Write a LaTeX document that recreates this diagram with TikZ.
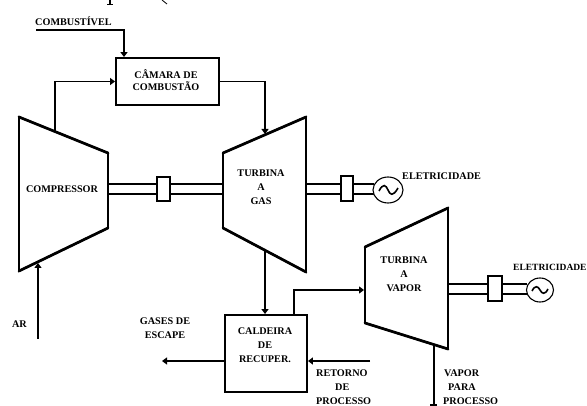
\documentclass[tikz,border=0pt]{standalone}
\usepackage{fontspec}
\setmainfont{Liberation Serif}
\usetikzlibrary{arrows.meta,shapes.geometric}
\tikzset{
  x=1pt,y=-1pt,
  machine/.style={line width=1.9pt,line join=miter},
  slant/.style={line width=2.7pt,line cap=round},
  box/.style={draw,line width=1.9pt,fill=white,inner sep=0pt,minimum width=#1},
  lbl/.style={font=\bfseries\fontsize{10.2}{14}\selectfont,align=center,inner sep=0pt},
  lblleft/.style={lbl,align=left},
  conn/.style={line width=1.3pt,-{Triangle[length=5pt,width=7pt]}},
  plain/.style={line width=1.3pt},
  shaft/.style={line width=1.9pt},
  coupling/.style={draw,line width=2pt,fill=white,inner sep=0pt},
  gen/.style={draw,line width=1.1pt,fill=white,ellipse,inner sep=0pt},
  wave/.style={line width=1.6pt},
}
\begin{document}
\begin{tikzpicture}
\useasboundingbox (0,0) rectangle (587,406);
\clip (0,0) rectangle (587,406);
% clipped remains of a line of text at the top edge
\draw[line width=1.5pt] (110,0) -- (110,5);
\draw[line width=1pt] (107,5) -- (113,5);
\draw[line width=0.8pt] (162,0) -- (167,4);
% machines
\draw[machine] (19,117) -- (108,153) -- (108,228) -- (19,271) -- cycle;
\draw[slant] (19,117) -- (108,153) (108,228) -- (19,271);
\draw[machine] (223,153) -- (306,117) -- (306,272) -- (223,228) -- cycle;
\draw[slant] (223,153) -- (306,117) (306,272) -- (223,228);
\draw[machine] (365,247) -- (448,208) -- (448,349) -- (365,323) -- cycle;
\draw[slant] (365,247) -- (448,208) (448,349) -- (365,323);
\coordinate (cmpTop) at (55,132);
\coordinate (cmpBot) at (38,263);
\coordinate (turbTop) at (265,134);
\coordinate (turbBot) at (265,250);
\coordinate (stL) at (364,290);
\coordinate (stBot) at (434,345);
% shafts
\draw[shaft] (108,184) -- (223,184) (108,194) -- (223,194);
\draw[shaft] (306,184) -- (374,184) (306,194) -- (374,194);
\draw[shaft] (448,284) -- (527,284) (448,294) -- (527,294);
\node[coupling,minimum width=13pt,minimum height=24pt] (c1) at (163.5,189) {};
\node[coupling,minimum width=12pt,minimum height=25pt] (c2) at (346.5,189) {};
\node[coupling,minimum width=14pt,minimum height=25pt] (c3) at (494.5,289) {};
\node[gen,minimum width=30pt,minimum height=26pt] (g1) at (388,190) {};
\node[gen,minimum width=27pt,minimum height=24pt] (g2) at (540,290) {};
\draw[wave] (379,191) .. controls (383,183) and (386,185) .. (388,190) .. controls (390,195) and (393,197) .. (398,188);
\draw[wave] (532,291) .. controls (535,285) and (538,286) .. (540,290) .. controls (542,294) and (545,295) .. (548,289);
% boxes
\node[box=103pt,minimum height=47pt] (cam) at (167.5,81.5) {};
\node[box=82pt,minimum height=77pt] (cal) at (266,353.5) {};
% free ends
\coordinate (fuel) at (36,30);
\coordinate (ar) at (38,339);
\coordinate (esc) at (162,361);
\coordinate (ret) at (370,361);
\coordinate (vap) at (434,405);
\coordinate (tick) at (430,405);
\coordinate (tickr) at (437,405);
\coordinate (stOut) at (294,315);
% connectors
\draw[conn] (fuel) -| (cam.north -| 124,0);
\draw[conn] (cmpTop) |- (cam.west);
\draw[conn] (cam.east) -| (turbTop);
\draw[conn] (ar) -- (cmpBot);
\draw[conn] (turbBot) -- (cal.north -| turbBot);
\draw[conn] (cal.west |- esc) -- (esc);
\draw[conn] (ret) -- (cal.east |- ret);
\draw[conn] (stOut) |- (stL);
\draw[plain] (stBot) -- (vap);
\draw[plain] (tick) -- (tickr);
% labels
\node[lbl,anchor=west] (tFuel) at (35,21) {COMBUSTÍVEL};
\node[lbl,font=\bfseries\fontsize{10.2}{12}\selectfont] (tCam) at (166,80) {CÂMARA DE\\COMBUSTÃO};
\node[lbl] (tComp) at (62,189) {COMPRESSOR};
\node[lbl] (tTG) at (261,187) {TURBINA\\A\\GAS};
\node[lbl,anchor=west] (tE1) at (402,176) {ELETRICIDADE};
\node[lbl] (tTV) at (404,274) {TURBINA\\A\\VAPOR};
\node[lbl,anchor=west,font=\bfseries\fontsize{9.5}{14}\selectfont] (tE2) at (513,267) {ELETRICIDADE};
\node[lbl] (tAR) at (19.5,324) {AR};
\node[lbl] (tGas) at (165,328) {GASES DE\\ESCAPE};
\node[lbl] (tCal) at (265,345) {CALDEIRA\\DE\\RECUPER.};
\node[lblleft,anchor=west] (tRet) at (316,387) {RETORNO\\\hspace*{19pt}DE\\PROCESSO};
\node[lblleft,anchor=west] (tVap) at (443,387) {\hspace*{1pt}VAPOR\\\hspace*{5pt}PARA\\PROCESSO};
\end{tikzpicture}
\end{document}
